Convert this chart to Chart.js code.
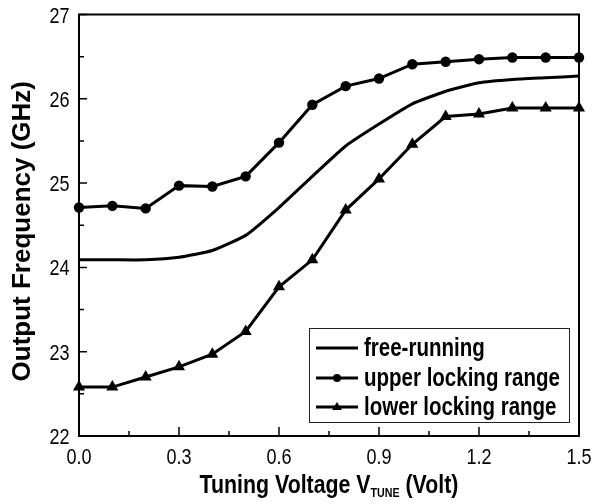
<!DOCTYPE html>
<html>
<head>
<meta charset="utf-8">
<script src="https://cdn.jsdelivr.net/npm/chart.js@4.4.1/dist/chart.umd.min.js"></script>
<style>
  html, body { margin: 0; padding: 0; background: #fff; }
  #wrap { width: 595px; height: 504px; position: relative; }
</style>
</head>
<body>
<div id="wrap"><canvas id="c" width="595" height="504"></canvas></div>
<script>
// Tuning voltage (V) and measured oscillator frequencies (GHz)
const voltages = [0.0, 0.1, 0.2, 0.3, 0.4, 0.5, 0.6, 0.7, 0.8, 0.9, 1.0, 1.1, 1.2, 1.3, 1.4, 1.5];
const freeRunning = [24.09, 24.09, 24.09, 24.12, 24.20, 24.38, 24.71, 25.08, 25.44, 25.70, 25.94, 26.09, 26.19, 26.23, 26.25, 26.27];
const upperLock = [24.71, 24.73, 24.70, 24.97, 24.96, 25.08, 25.48, 25.93, 26.15, 26.24, 26.41, 26.44, 26.47, 26.49, 26.49, 26.49];
const lowerLock = [22.58, 22.58, 22.70, 22.82, 22.97, 23.24, 23.77, 24.09, 24.68, 25.05, 25.46, 25.79, 25.82, 25.89, 25.89, 25.89];

const xTickValues = [0.0, 0.3, 0.6, 0.9, 1.2, 1.5];
const xMinorValues = [0.15, 0.45, 0.75, 1.05, 1.35];
const yTickValues = [22, 23, 24, 25, 26, 27];
const yMinorValues = [22.5, 23.5, 24.5, 25.5, 26.5];

const seriesNames = ['free-running', 'upper locking range', 'lower locking range'];

const FONT = '"Liberation Sans", Arial, Helvetica, sans-serif';
const SQUEEZE = 0.82; // condensed look for horizontal text

const toPoints = arr => arr.map((y, i) => ({ x: voltages[i], y }));

// horizontally condensed text; returns drawn width
function condensedText(ctx, text, x, y, align) {
  const w = ctx.measureText(text).width * SQUEEZE;
  let left = x;
  if (align === 'center') left = x - w / 2;
  else if (align === 'right') left = x - w;
  ctx.save();
  ctx.translate(left, y);
  ctx.scale(SQUEEZE, 1);
  ctx.textAlign = 'left';
  ctx.fillText(text, 0, 0);
  ctx.restore();
  return w;
}

// Frame, inward ticks, tick labels, axis titles and the boxed legend
const decorations = {
  id: 'decorations',
  afterDraw(chart) {
    const { ctx, chartArea: a, scales: { x, y } } = chart;
    ctx.save();
    ctx.strokeStyle = '#000';
    ctx.lineWidth = 2;
    ctx.strokeRect(a.left, a.top, a.right - a.left, a.bottom - a.top);

    ctx.lineWidth = 1.5;
    ctx.beginPath();
    xTickValues.forEach(v => { const px = x.getPixelForValue(v); ctx.moveTo(px, a.bottom); ctx.lineTo(px, a.bottom - 9); });
    xMinorValues.forEach(v => { const px = x.getPixelForValue(v); ctx.moveTo(px, a.bottom); ctx.lineTo(px, a.bottom - 5); });
    yTickValues.forEach(v => { const py = y.getPixelForValue(v); ctx.moveTo(a.left, py); ctx.lineTo(a.left + 8, py); });
    yMinorValues.forEach(v => { const py = y.getPixelForValue(v); ctx.moveTo(a.left, py); ctx.lineTo(a.left + 5, py); });
    ctx.stroke();

    // tick labels
    ctx.fillStyle = '#000';
    ctx.textBaseline = 'alphabetic';
    ctx.font = '22px ' + FONT;
    xTickValues.forEach(v => condensedText(ctx, v.toFixed(1), x.getPixelForValue(v), a.bottom + 27.5, 'center'));
    yTickValues.forEach(v => condensedText(ctx, String(v), a.left - 9.5, y.getPixelForValue(v) + 8, 'right'));

    // x title with subscript
    const big = 'bold 26px ' + FONT;
    const small = 'bold 13px ' + FONT;
    const p1 = 'Tuning Voltage V', sub = 'TUNE', p2 = ' (Volt)';
    ctx.font = big; const w1 = ctx.measureText(p1).width * SQUEEZE, w3 = ctx.measureText(p2).width * SQUEEZE;
    ctx.font = small; const w2 = ctx.measureText(sub).width * SQUEEZE;
    let sx = (a.left + a.right) / 2 - (w1 + w2 + w3) / 2;
    const baseY = 493;
    ctx.font = big; sx += condensedText(ctx, p1, sx, baseY, 'left');
    ctx.font = small; sx += condensedText(ctx, sub, sx, baseY + 4, 'left');
    ctx.font = big; condensedText(ctx, p2, sx, baseY, 'left');

    // y title
    ctx.save();
    ctx.translate(23, (a.top + a.bottom) / 2 + 6);
    ctx.rotate(-Math.PI / 2);
    ctx.textAlign = 'center';
    ctx.textBaseline = 'middle';
    ctx.font = big;
    ctx.fillText('Output Frequency (GHz)', 0, 0);
    ctx.restore();

    // legend
    const lx = 309, ly = 328, lw = 260, lh = 94;
    ctx.fillStyle = '#fff';
    ctx.fillRect(lx, ly, lw, lh);
    ctx.strokeStyle = '#222';
    ctx.lineWidth = 1;
    ctx.strokeRect(lx + 0.5, ly + 0.5, lw, lh);
    const rows = [348, 378, 407];
    ctx.font = 'bold 25px ' + FONT;
    ctx.textBaseline = 'alphabetic';
    chart.data.datasets.forEach((ds, i) => {
      const ry = rows[i];
      ctx.strokeStyle = '#000';
      ctx.lineWidth = 3;
      ctx.beginPath(); ctx.moveTo(316, ry); ctx.lineTo(358, ry); ctx.stroke();
      ctx.fillStyle = '#000';
      if (ds.pointStyle === 'circle' && ds.pointRadius > 0) {
        ctx.beginPath(); ctx.arc(337, ry, 4, 0, Math.PI * 2); ctx.fill();
      } else if (ds.pointStyle === 'triangle' && ds.pointRadius > 0) {
        ctx.beginPath(); ctx.moveTo(337, ry - 5); ctx.lineTo(342, ry + 3); ctx.lineTo(332, ry + 3); ctx.closePath(); ctx.fill();
      }
      condensedText(ctx, ds.label, 364, ry + 8, 'left');
    });
    ctx.restore();
  }
};

new Chart(document.getElementById('c'), {
  type: 'line',
  data: {
    datasets: [
      { label: seriesNames[0], data: toPoints(freeRunning), borderColor: '#000', borderWidth: 3, pointRadius: 0, pointStyle: 'circle', tension: 0.15 },
      { label: seriesNames[1], data: toPoints(upperLock), borderColor: '#000', backgroundColor: '#000', borderWidth: 3, pointStyle: 'circle', pointRadius: 5.2, pointBorderWidth: 0 },
      { label: seriesNames[2], data: toPoints(lowerLock), borderColor: '#000', backgroundColor: '#000', borderWidth: 3, pointStyle: 'triangle', pointRadius: 7, pointBorderWidth: 0 }
    ]
  },
  options: {
    responsive: false,
    animation: false,
    clip: false,
    layout: { padding: { left: 0, top: 14.5, right: 16, bottom: 0 } },
    plugins: { legend: { display: false }, tooltip: { enabled: false } },
    scales: {
      x: {
        type: 'linear', min: 0, max: 1.5,
        grid: { display: false, drawTicks: false },
        border: { display: false },
        ticks: { display: false },
        afterBuildTicks: s => { s.ticks = xTickValues.map(v => ({ value: v })); },
        afterFit: s => { s.height = 68; }
      },
      y: {
        min: 22, max: 27,
        grid: { display: false, drawTicks: false },
        border: { display: false },
        ticks: { display: false },
        afterBuildTicks: s => { s.ticks = yTickValues.map(v => ({ value: v })); },
        afterFit: s => { s.width = 79; }
      }
    }
  },
  plugins: [decorations]
});
</script>
</body>
</html>
